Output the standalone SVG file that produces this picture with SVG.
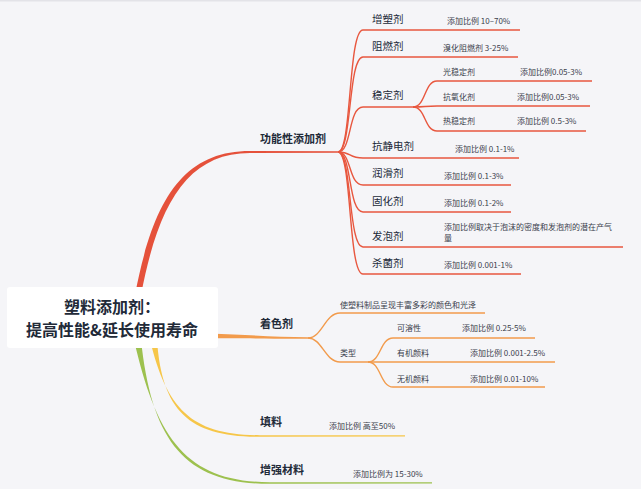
<svg xmlns="http://www.w3.org/2000/svg" width="641" height="489" viewBox="0 0 641 489">
<style>
text{font-family:"Noto Sans CJK SC","Noto Sans",sans-serif;fill:#222a38}
.root{font-size:16px;font-weight:bold;text-anchor:middle}
.l1{font-size:11px;font-weight:bold}
.l2{font-size:10.5px}
.s{font-size:8px;fill:#3a404c}
.r{fill:none;stroke:#e8573f;stroke-width:1.4}
.o{fill:none;stroke:#f29b4c;stroke-width:1.4}
</style>
<rect width="641" height="489" fill="#f5f5f8"/>
<rect width="641" height="1.5" fill="#e3e3e8"/>
<g id="connectors">
<path d="M135,295 C153,200 183,151 250,151 L338,151.2 L338,152.8 L250,153 C187,153 158,205 141,295 Z" fill="#e5513b"/>
<path d="M208,333.5 C250,335 275,337 308,337.3 L308,338.7 C275,339 250,338 208,338.5 Z" fill="#f29b4c"/>
<path d="M150,340 C167,410 192,435 260,435.2 L405,435.2 L405,436.6 L260,436.8 C190,437 162,412 157,340 Z" fill="#f6c649"/>
<path d="M134,340 C157,440 187,482 270,482.2 L432,482.2 L432,483.6 L270,483.8 C185,484 152,442 141,340 Z" fill="#9dc14f"/>
<path class="r" d="M338,152 C352,152 348,30 363,30 H520"/>
<path class="r" d="M338,152 C352,152 348,57 363,57 H518"/>
<path class="r" d="M338,152 C352,152 348,107 363,107 H413"/>
<path class="r" d="M338,152 C352,152 348,158 363,158 H519"/>
<path class="r" d="M338,152 C352,152 348,185 363,185 H511"/>
<path class="r" d="M338,152 C352,152 348,212 363,212 H511"/>
<path class="r" d="M338,152 C352,152 348,247 363,247 H623"/>
<path class="r" d="M338,152 C352,152 348,274 363,274 H521"/>
<path class="r" d="M413,107 C426,107 424,81 437,81 H592"/>
<path class="r" d="M413,107 C426,107 424,106 437,106 H590"/>
<path class="r" d="M413,107 C426,107 424,131 437,131 H586"/>
<path class="o" d="M308,338 C322,338 325,313 340,313 H485"/>
<path class="o" d="M308,338 C322,338 325,362 340,362 H368"/>
<path class="o" d="M368,362 C381,362 380,338 393,338 H535"/>
<path class="o" d="M368,362 H555"/>
<path class="o" d="M368,362 C381,362 380,387 393,387 H545"/>
</g>
<g id="root">
<rect x="7" y="287" width="211" height="61" rx="3" fill="#ffffff"/>
<text class="root" x="112" y="313">塑料添加剂：</text>
<text class="root" x="112" y="336">提高性能&amp;延长使用寿命</text>
</g>
<g id="functional">
<text class="l1" x="260" y="143">功能性添加剂</text>
</g>
<g id="plasticizer"><text class="l2" x="372" y="23">增塑剂</text><text class="s" x="447" y="24">添加比例 10–70%</text></g>
<g id="flame"><text class="l2" x="372" y="50">阻燃剂</text><text class="s" x="443" y="51">溴化阻燃剂 3-25%</text></g>
<g id="stabilizer"><text class="l2" x="372" y="99">稳定剂</text></g>
<g id="light"><text class="s" x="443" y="75">光稳定剂</text><text class="s" x="520" y="75">添加比例0.05-3%</text></g>
<g id="antiox"><text class="s" x="443" y="100">抗氧化剂</text><text class="s" x="517" y="100">添加比例0.05-3%</text></g>
<g id="heat"><text class="s" x="443" y="124">热稳定剂</text><text class="s" x="517" y="124">添加比例 0.5-3%</text></g>
<g id="antistatic"><text class="l2" x="372" y="150">抗静电剂</text><text class="s" x="455" y="152">添加比例 0.1-1%</text></g>
<g id="lubricant"><text class="l2" x="372" y="177">润滑剂</text><text class="s" x="444" y="179">添加比例 0.1-3%</text></g>
<g id="curing"><text class="l2" x="372" y="205">固化剂</text><text class="s" x="444" y="206">添加比例 0.1-2%</text></g>
<g id="foaming"><text class="l2" x="372" y="240">发泡剂</text><text class="s" x="444" y="230">添加比例取决于泡沫的密度和发泡剂的潜在产气</text><text class="s" x="444" y="241">量</text></g>
<g id="biocide"><text class="l2" x="372" y="267">杀菌剂</text><text class="s" x="444" y="268">添加比例 0.001-1%</text></g>
<g id="colorant"><text class="l1" x="260" y="328">着色剂</text></g>
<g id="colorant-desc"><text class="s" x="340" y="308">使塑料制品呈现丰富多彩的颜色和光泽</text></g>
<g id="types"><text class="s" x="340" y="356">类型</text></g>
<g id="soluble"><text class="s" x="397" y="331">可溶性</text><text class="s" x="462" y="331">添加比例 0.25-5%</text></g>
<g id="organic"><text class="s" x="397" y="356">有机颜料</text><text class="s" x="470" y="356">添加比例 0.001-2.5%</text></g>
<g id="inorganic"><text class="s" x="397" y="382">无机颜料</text><text class="s" x="470" y="382">添加比例 0.01-10%</text></g>
<g id="filler"><text class="l1" x="260" y="426">填料</text><text class="s" x="329" y="429">添加比例 高至50%</text></g>
<g id="reinforcement"><text class="l1" x="260" y="474">增强材料</text><text class="s" x="353" y="477">添加比例为 15-30%</text></g>
</svg>
